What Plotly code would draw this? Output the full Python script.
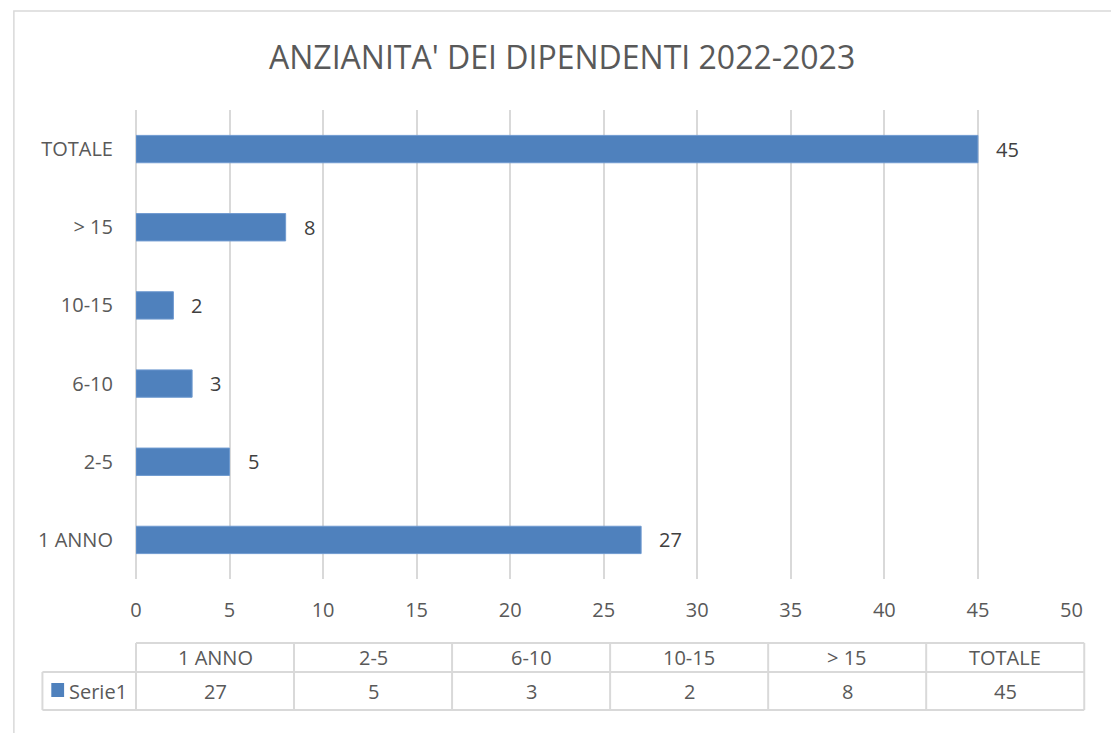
import plotly.graph_objects as go

categories = ["1 ANNO", "2-5", "6-10", "10-15", "> 15", "TOTALE"]
values = [27, 5, 3, 2, 8, 45]
series_name = "Serie1"
x_ticks = [0, 5, 10, 15, 20, 25, 30, 35, 40, 45, 50]
title_text = "ANZIANITA' DEI DIPENDENTI 2022-2023"

W, H = 1111, 733
BAR = "#4F81BD"
TXT = "#595959"
GRID = "#D9D9D9"
FONT = "Open Sans"


def px(x):
    return x / W


def py(y):
    return 1 - y / H


fig = go.Figure()
fig.add_trace(go.Bar(
    x=values, y=categories, orientation="h",
    marker=dict(color=BAR, line=dict(color="#6F9AD0", width=1)),
    width=0.35, name=series_name, showlegend=False, hoverinfo="x+y",
))

annotations = []
for c, v in zip(categories, values):
    annotations.append(dict(
        x=v, y=c, xref="x", yref="y", text=str(v), showarrow=False,
        xanchor="left", xshift=16, font=dict(family=FONT, size=20, color="#404040"),
    ))

# title
annotations.append(dict(
    x=px(565), y=py(56), xref="paper", yref="paper", text=title_text,
    showarrow=False, xanchor="center", yanchor="middle",
    font=dict(family=FONT, size=32, color=TXT),
))

shapes = []
# chart border
shapes.append(dict(type="rect", xref="paper", yref="paper",
                   x0=px(8), x1=px(1130), y0=py(760), y1=py(11),
                   line=dict(color=GRID, width=1.5), fillcolor="rgba(0,0,0,0)", layer="below"))

# data table
left0, tab_l, tab_r = 37, 132, 1095
y_top, y_mid, y_bot = 643, 672, 710
col_w = (tab_r - tab_l) / len(categories)
lc = dict(color=GRID, width=2)
shapes.append(dict(type="line", xref="paper", yref="paper", x0=px(tab_l), x1=px(tab_r), y0=py(y_top), y1=py(y_top), line=lc))
shapes.append(dict(type="line", xref="paper", yref="paper", x0=px(left0), x1=px(tab_r), y0=py(y_mid), y1=py(y_mid), line=lc))
shapes.append(dict(type="line", xref="paper", yref="paper", x0=px(left0), x1=px(tab_r), y0=py(y_bot), y1=py(y_bot), line=lc))
shapes.append(dict(type="line", xref="paper", yref="paper", x0=px(left0), x1=px(left0), y0=py(y_mid), y1=py(y_bot), line=lc))
for i in range(len(categories) + 1):
    xx = tab_l + i * col_w
    shapes.append(dict(type="line", xref="paper", yref="paper", x0=px(xx), x1=px(xx), y0=py(y_top), y1=py(y_bot), line=lc))

for i, (c, v) in enumerate(zip(categories, values)):
    cx = tab_l + (i + 0.5) * col_w
    annotations.append(dict(x=px(cx), y=py((y_top + y_mid) / 2), xref="paper", yref="paper",
                            text=c, showarrow=False, xanchor="center", yanchor="middle",
                            font=dict(family=FONT, size=20, color=TXT)))
    annotations.append(dict(x=px(cx), y=py((y_mid + y_bot) / 2), xref="paper", yref="paper",
                            text=str(v), showarrow=False, xanchor="center", yanchor="middle",
                            font=dict(family=FONT, size=20, color=TXT)))

# legend key in table
shapes.append(dict(type="rect", xref="paper", yref="paper",
                   x0=px(46), x1=px(59), y0=py(697), y1=py(683),
                   fillcolor=BAR, line=dict(width=0)))
annotations.append(dict(x=px(62), y=py((y_mid + y_bot) / 2), xref="paper", yref="paper",
                        text=series_name, showarrow=False, xanchor="left", yanchor="middle",
                        font=dict(family=FONT, size=20, color=TXT)))

fig.update_layout(
    width=W, height=H,
    margin=dict(l=0, r=0, t=0, b=0),
    paper_bgcolor="white", plot_bgcolor="white",
    showlegend=False,
    bargap=0.65,
    xaxis=dict(domain=[px(132), px(1082)], range=[0, 50], tickvals=x_ticks,
               showgrid=True, gridcolor=GRID, gridwidth=2, zeroline=True,
               zerolinecolor=GRID, zerolinewidth=2, showline=False,
               ticks="", ticklabelstandoff=17,
               tickfont=dict(family=FONT, size=20, color=TXT), fixedrange=True),
    yaxis=dict(domain=[py(579), py(110)], categoryorder="array", categoryarray=categories,
               showgrid=False, showline=False, ticks="", ticklabelstandoff=22,
               tickfont=dict(family=FONT, size=20, color=TXT), fixedrange=True),
    annotations=annotations,
    shapes=shapes,
)

fig.write_html(
    "out.html",
    config={"displayModeBar": False},
    post_script="document.body.style.margin='0';document.body.style.overflow='hidden';",
)
